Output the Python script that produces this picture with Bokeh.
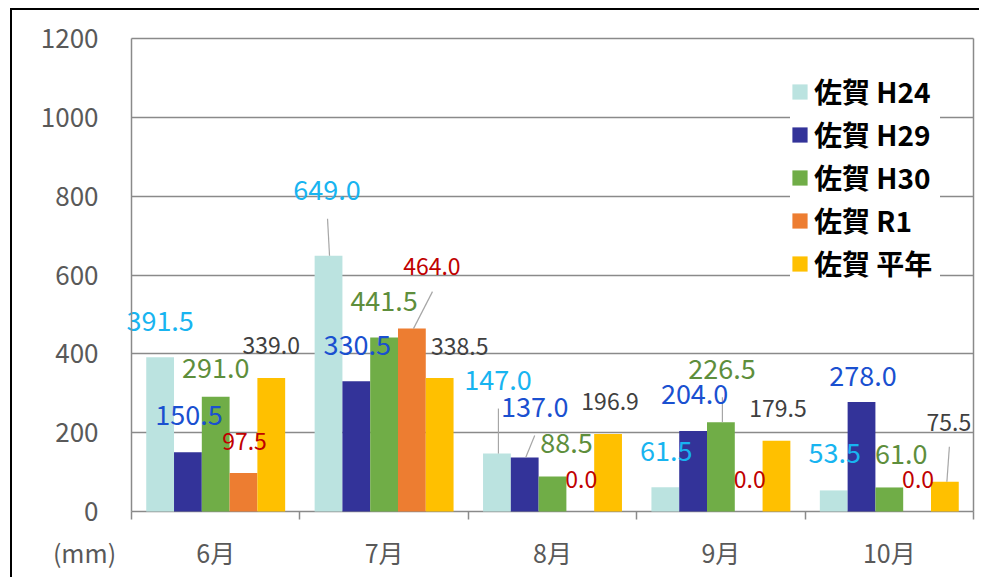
import numpy as np
from bokeh.plotting import figure
from bokeh.models import (ColumnDataSource, Range1d, FixedTicker, Legend, LegendItem)
from bokeh.core.properties import value
from bokeh.embed import file_html
from bokeh.resources import INLINE

# ---------------- data ----------------
months = ["6月", "7月", "8月", "9月", "10月"]
series_names = ["佐賀 H24", "佐賀 H29", "佐賀 H30", "佐賀 R1", "佐賀 平年"]
saga_h24 = [391.5, 649.0, 147.0, 61.5, 53.5]
saga_h29 = [150.5, 330.5, 137.0, 204.0, 278.0]
saga_h30 = [291.0, 441.5, 88.5, 226.5, 61.0]
saga_r1 = [97.5, 464.0, 0.0, 0.0, 0.0]
saga_heinen = [339.0, 338.5, 196.9, 179.5, 75.5]
y_ticks = [0, 200, 400, 600, 800, 1000, 1200]
unit_label = "(mm)"

series_values = [saga_h24, saga_h29, saga_h30, saga_r1, saga_heinen]

# ---------------- styles ----------------
FONT = "Noto Sans CJK JP"
bar_colors = ["#BBE3E0", "#333399", "#70AD47", "#ED7D31", "#FFC000"]
label_colors = ["#18B4F0", "#1A50D0", "#5E8E3C", "#C00000", "#404040"]
label_sizes = ["27px", "27px", "27px", "23px", "23px"]
grid_color = "#8A8A8A"
tick_color = "#595959"

# data-label offsets in screen pixels (per series, per month)
label_dx = [[0, -1.5, 1, 1, 1],
            [1, 1, 10, 1.5, 1.5],
            [0, 0, 14, 1, 12],
            [1, 20, 1, 1, 1],
            [0, 20, 2, 1.5, 4]]
label_dy = [[-36, -66, -74, -36, -37],
            [-37, -36, -50, -37, -26],
            [-29, -36, -34, -53, -33],
            [-32, -62, -32, -32, -32],
            [-32, -32, -32, -32, -59]]
# leader lines: (month, series, start dx px, end dx px, end dy px)
leaders = [(1, 0, 1, -1, -37),
           (1, 3, 1.6, 20.6, -37),
           (2, 0, 1.5, 1.5, -45),
           (2, 1, 1, 10, -22),
           (3, 2, 1.5, 1.5, -25),
           (4, 4, 2, 4.5, -35)]

bar_width = 0.165
offsets = [-0.33, -0.165, 0.0, 0.165, 0.33]

PX_PER_CAT = 168.4            # screen width of one month
PX_PER_MM = 473 / 1200        # screen height of 1 mm
PAD_L, PAD_R, PAD_T, PAD_B = 119, 8, 28, 68   # margins around the plot area (px)
unit_pos = -47 / PX_PER_CAT   # where "(mm)" sits, left of the value axis

n = len(months)
x_start = -PAD_L / PX_PER_CAT
x_end = n + PAD_R / PX_PER_CAT
y_start = y_ticks[0] - PAD_B / PX_PER_MM
y_end = y_ticks[-1] + PAD_T / PX_PER_MM

p = figure(width=969, height=569,
           x_range=Range1d(x_start, x_end), y_range=Range1d(y_start, y_end),
           output_backend="svg", toolbar_location=None,
           min_border_left=0, min_border_right=0, min_border_top=0, min_border_bottom=0)
p.styles = {"margin-left": "10px", "margin-top": "8px",
            "border-left": "2px solid black", "border-top": "2px solid black"}
p.background_fill_color = "white"
p.border_fill_color = "white"
p.outline_line_color = None

# grid (limited to the plot area)
p.ygrid.ticker = FixedTicker(ticks=y_ticks)
p.ygrid.grid_line_color = grid_color
p.ygrid.grid_line_width = 1.5
p.ygrid.cross_bounds = (0, n)
p.xgrid.ticker = FixedTicker(ticks=[n])
p.xgrid.grid_line_color = grid_color
p.xgrid.grid_line_width = 1.5
p.xgrid.cross_bounds = (y_ticks[0], y_ticks[-1])

# y axis placed at x = 0
p.yaxis.fixed_location = 0
p.yaxis.bounds = (y_ticks[0], y_ticks[-1])
p.yaxis.ticker = FixedTicker(ticks=y_ticks)
p.yaxis.axis_line_color = grid_color
p.yaxis.axis_line_width = 1.5
p.yaxis.major_tick_line_color = None
p.yaxis.minor_tick_line_color = None
p.yaxis.major_label_standoff = 27
p.yaxis.major_label_text_font = FONT
p.yaxis.major_label_text_font_size = "26px"
p.yaxis.major_label_text_color = tick_color

# x axis placed at y = 0: labels at month centres, tick marks at month boundaries
centres = [i + 0.5 for i in range(n)]
p.xaxis.fixed_location = 0
p.xaxis.ticker = FixedTicker(ticks=[unit_pos] + centres, minor_ticks=list(range(n + 1)))
overrides = {c: m for c, m in zip(centres, months)}
overrides[unit_pos] = unit_label
p.xaxis.major_label_overrides = overrides
p.xaxis.axis_line_color = None
p.xaxis.major_tick_out = 0
p.xaxis.major_tick_in = 0
p.xaxis.major_tick_line_color = None
p.xaxis.minor_tick_out = 8
p.xaxis.minor_tick_in = 0
p.xaxis.minor_tick_line_color = grid_color
p.xaxis.minor_tick_line_width = 1.5
p.xaxis.major_label_standoff = 14
p.xaxis.major_label_text_font = FONT
p.xaxis.major_label_text_font_size = "25px"
p.xaxis.major_label_text_color = tick_color

renderers = []
sources = []
for s, vals in enumerate(series_values):
    xs = [c + offsets[s] for c in centres]
    src = ColumnDataSource(dict(x=xs, top=vals,
                                txt=["%.1f" % v for v in vals],
                                dx=label_dx[s], dy=label_dy[s]))
    sources.append(src)
    r = p.vbar(x="x", top="top", width=bar_width, source=src,
               fill_color=bar_colors[s], line_color=None)
    renderers.append(r)

# leader lines
lx0, ly0, lx1, ly1 = [], [], [], []
for m, s, sdx, edx, edy in leaders:
    bx = centres[m] + offsets[s]
    v = series_values[s][m]
    lx0.append(bx + sdx / PX_PER_CAT)
    ly0.append(v)
    lx1.append(bx + edx / PX_PER_CAT)
    ly1.append(v - edy / PX_PER_MM)
p.segment(x0=lx0, y0=ly0, x1=lx1, y1=ly1, line_color="#A6A6A6", line_width=1.2)

# data labels (drawn after all bars)
for s, src in enumerate(sources):
    p.text(x="x", y="top", text="txt", x_offset="dx", y_offset="dy", source=src,
           text_font=value(FONT), text_font_size=label_sizes[s],
           text_color=label_colors[s], text_align="center", text_baseline="middle")

legend = Legend(items=[LegendItem(label=nm, renderers=[r]) for nm, r in zip(series_names, renderers)],
                location=(778, 296))
legend.label_text_font = FONT
legend.label_text_font_style = "bold"
legend.label_text_font_size = "28px"
legend.label_text_color = "black"
legend.glyph_width = 19
legend.glyph_height = 19
legend.label_standoff = 5
legend.label_width = 126
legend.spacing = 3
legend.padding = 24
legend.margin = 0
legend.border_line_color = None
legend.background_fill_color = "white"
legend.background_fill_alpha = 1.0
p.add_layout(legend, "center")

open("out.html", "w").write(file_html(p, INLINE))
